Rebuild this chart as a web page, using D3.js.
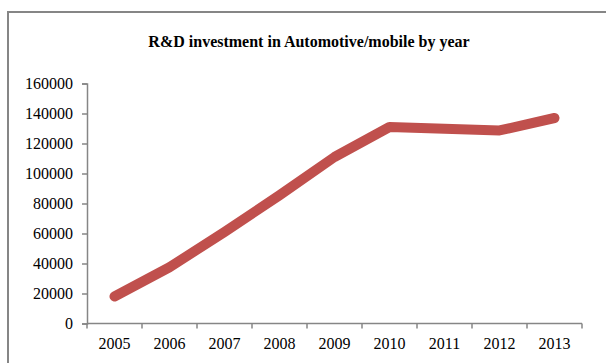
<!DOCTYPE html>
<html>
<head>
<meta charset="utf-8">
<script src="https://cdn.jsdelivr.net/npm/d3@7"></script>
<style>
  html, body { margin: 0; padding: 0; background: #fff; }
  svg { display: block; }
</style>
</head>
<body>
<script>
// R&D investment series
const years = ["2005", "2006", "2007", "2008", "2009", "2010", "2011", "2012", "2013"];
const investment = [18000, 37500, 61000, 85500, 111000, 131000, 129800, 128700, 137000];
const yTicks = [0, 20000, 40000, 60000, 80000, 100000, 120000, 140000, 160000];
const chartTitle = "R&D investment in Automotive/mobile by year";

const W = 606, H = 363;
const svg = d3.select("body").append("svg").attr("width", W).attr("height", H);

// chart frame (runs past the right and bottom edges)
svg.append("rect")
  .attr("x", 8).attr("y", 12)
  .attr("width", 640).attr("height", 400)
  .attr("fill", "#fff").attr("stroke", "#868686").attr("stroke-width", 2);

const plot = { left: 87, right: 582, top: 83.5, bottom: 323.5 };

const x = d3.scaleBand().domain(years).range([plot.left, plot.right]).padding(0);
const y = d3.scaleLinear().domain([0, 160000]).range([plot.bottom, plot.top]);

const serif = "'Liberation Serif', 'Times New Roman', serif";

svg.append("text")
  .attr("x", 309).attr("y", 47)
  .attr("text-anchor", "middle")
  .attr("font-family", serif).attr("font-weight", "bold").attr("font-size", 16)
  .attr("fill", "#000")
  .text(chartTitle);

// y axis
const yAxis = svg.append("g")
  .attr("transform", `translate(${plot.left},0)`)
  .call(d3.axisLeft(y).tickValues(yTicks).tickFormat(d3.format("d")).tickSize(5).tickPadding(9));

// x axis with ticks between categories
const xAxis = svg.append("g")
  .attr("transform", `translate(0,${plot.bottom})`)
  .call(d3.axisBottom(x).tickSize(0).tickPadding(14));

xAxis.selectAll(".between")
  .data(d3.range(years.length + 1))
  .join("line")
  .attr("class", "between")
  .attr("x1", i => plot.left + i * x.step())
  .attr("x2", i => plot.left + i * x.step())
  .attr("y1", 0).attr("y2", 5)
  .attr("stroke", "#868686").attr("stroke-width", 1.5);

[yAxis, xAxis].forEach(g => {
  g.select(".domain").attr("stroke", "#868686").attr("stroke-width", 1.5);
  g.selectAll(".tick line").attr("stroke", "#868686").attr("stroke-width", 1.5);
  g.selectAll("text").attr("font-family", serif).attr("font-size", 16).attr("fill", "#000");
});
xAxis.select(".domain").attr("d", `M${plot.left},0H${plot.right}`);

// investment line
const line = d3.line()
  .x((d, i) => x(years[i]) + x.bandwidth() / 2)
  .y(d => y(d));

svg.append("path")
  .datum(investment)
  .attr("d", line)
  .attr("fill", "none")
  .attr("stroke", "#C0504D")
  .attr("stroke-width", 10)
  .attr("stroke-linecap", "round")
  .attr("stroke-linejoin", "round");
</script>
</body>
</html>
